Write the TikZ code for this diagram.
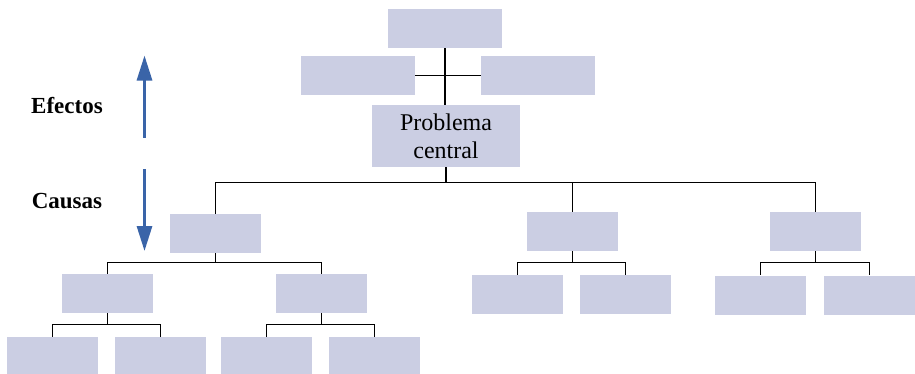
\documentclass[tikz,border=0pt]{standalone}
\usepackage{fontspec}
\setmainfont{Liberation Serif}
\usepackage{tikz}
\usetikzlibrary{calc,arrows.meta}

\definecolor{boxfill}{RGB}{203,206,227}
\definecolor{arrowblue}{RGB}{58,100,168}

\tikzset{
	box/.style={fill=boxfill, inner sep=0pt, minimum width=91pt, minimum height=39pt},
	widebox/.style={box, minimum width=114pt},
	link/.style={draw=black, line width=1.1pt},
	flow/.style={draw=arrowblue, line width=3pt, -{Triangle[width=15pt,length=25pt]}},
	side/.style={font=\bfseries\fontsize{23}{26}\selectfont, anchor=base}
}

\begin{document}
\begin{tikzpicture}[x=1pt,y=-1pt]

	% ---- frame

	\useasboundingbox (0,0) rectangle (915,373);

	% ---- effects

	\node[widebox] (E0) at (445,28.5) {};
	\node[widebox] (EL) at (358,75.5) {};
	\node[widebox] (ER) at (538,75.5) {};

	% ---- central problem

	\node[box, minimum width=148pt, minimum height=62pt, align=center,
		font=\fontsize{24}{28}\selectfont] (PC) at (446,136) {Problema\\central};

	% ---- causes

	\node[box] (C1) at (215.3,233.3) {};
	\node[box] (C2) at (572.3,231.3) {};
	\node[box] (C3) at (815.5,231.5) {};

	\node[box] (C11) at (107.3,293.3) {};
	\node[box] (C12) at (321.3,293.3) {};
	\node[box] (C21) at (517.3,294.3) {};
	\node[box] (C22) at (625.3,294.3) {};
	\node[box] (C31) at (760.5,295) {};
	\node[box] (C32) at (869.5,295) {};

	\node[box] (C111) at (52.5,356.5) {};
	\node[box] (C112) at (160.3,356.5) {};
	\node[box] (C121) at (266.3,356.5) {};
	\node[box] (C122) at (374.3,356.5) {};

	% ---- bus lines

	\coordinate (B0) at (0,182.5);
	\coordinate (B1) at (0,262.5);
	\coordinate (B2) at (0,324.3);

	% ---- connectors

	\draw[link] (E0.south) -- (E0.south |- PC.north);
	\draw[link] (EL.east) -- (ER.west);

	\foreach \c in {C1,C2,C3} {
		\draw[link] (PC.south) |- (\c.north |- B0) -- (\c.north);
	}
	\foreach \p/\c in {C1/C11,C1/C12,C2/C21,C2/C22,C3/C31,C3/C32} {
		\draw[link] (\p.south) |- (\c.north |- B1) -- (\c.north);
	}
	\foreach \p/\c in {C11/C111,C11/C112,C12/C121,C12/C122} {
		\draw[link] (\p.south) |- (\c.north |- B2) -- (\c.north);
	}

	% ---- direction arrows

	\coordinate (UpTail) at (144.5,137.5);
	\coordinate (UpTip) at (144.5,55.5);
	\coordinate (DownTail) at (144.5,169);
	\coordinate (DownTip) at (144.5,251);

	\draw[flow] (UpTail) -- (UpTip);
	\draw[flow] (DownTail) -- (DownTip);

	% ---- labels

	\node[side] (Efectos) at (67,113) {Efectos};
	\node[side] (Causas) at (67,208) {Causas};

\end{tikzpicture}
\end{document}
